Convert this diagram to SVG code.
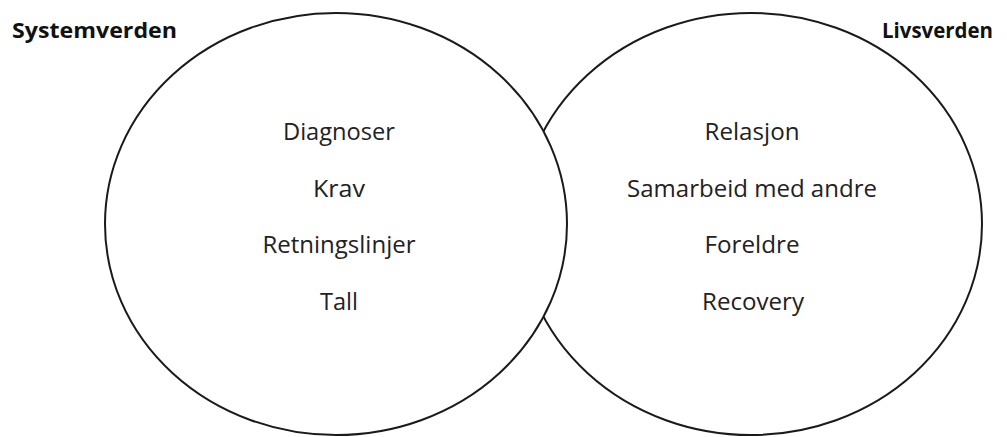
<svg xmlns="http://www.w3.org/2000/svg" width="1007" height="437" viewBox="0 0 1007 437">
  <style>
    .circle { fill: #ffffff; stroke: #1a1a1a; stroke-width: 2; }
    .item { font-family: "Open Sans", "Liberation Sans", sans-serif; font-size: 24px; fill: #222222; text-anchor: middle; }
    .title { font-family: "Open Sans", "Liberation Sans", sans-serif; font-size: 22px; font-weight: bold; fill: #111111; }
  </style>
  <rect width="1007" height="437" fill="#ffffff"/>
  <g id="livsverden">
    <ellipse class="circle" cx="751" cy="224" rx="231" ry="211"/>
    <text class="title" x="882" y="38" textLength="111" lengthAdjust="spacingAndGlyphs">Livsverden</text>
    <text class="item" x="752" y="140" textLength="95" lengthAdjust="spacingAndGlyphs">Relasjon</text>
    <text class="item" x="752" y="197" textLength="250" lengthAdjust="spacingAndGlyphs">Samarbeid med andre</text>
    <text class="item" x="752" y="253" textLength="95" lengthAdjust="spacingAndGlyphs">Foreldre</text>
    <text class="item" x="753" y="310" textLength="102" lengthAdjust="spacingAndGlyphs">Recovery</text>
  </g>
  <g id="systemverden">
    <ellipse class="circle" cx="336" cy="224" rx="231" ry="211"/>
    <text class="title" x="12" y="38" textLength="165" lengthAdjust="spacingAndGlyphs">Systemverden</text>
    <text class="item" x="339" y="140" textLength="112" lengthAdjust="spacingAndGlyphs">Diagnoser</text>
    <text class="item" x="339" y="197" textLength="52" lengthAdjust="spacingAndGlyphs">Krav</text>
    <text class="item" x="339" y="253" textLength="153" lengthAdjust="spacingAndGlyphs">Retningslinjer</text>
    <text class="item" x="339" y="310" textLength="38" lengthAdjust="spacingAndGlyphs">Tall</text>
  </g>
  <g id="connectors"></g>
</svg>
